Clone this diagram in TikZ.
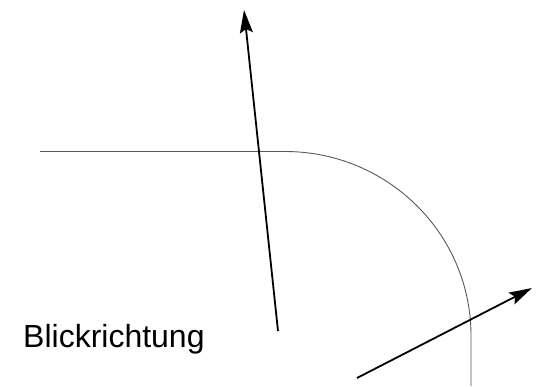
\documentclass[tikz,border=0pt]{standalone}
\usepackage{fontspec}
\setmainfont{Liberation Sans}
\usetikzlibrary{arrows.meta}

\begin{document}
\begin{tikzpicture}[
  x=1pt,y=-1pt,
  road/.style={draw=black!65,line width=0.9pt},
  arr/.style={-{Stealth[length=23pt,width=13pt,inset=4pt]},line width=1.8pt,black},
  lbl/.style={font=\fontsize{32}{36}\selectfont,inner sep=0pt,anchor=base west}
]
\useasboundingbox (0,0) rectangle (536,386);
% road edge
\coordinate (roadstart) at (40,151.5);
\coordinate (bendstart) at (285,151.5);
\coordinate (roadend)   at (471,386);
\draw[road] (roadstart) -- (bendstart) arc[start angle=270,end angle=360,x radius=186,y radius=184] -- (roadend);
% view directions
\coordinate (dirAtail) at (278,331);
\coordinate (dirAtip)  at (244,10);
\coordinate (dirBtail) at (357,378);
\coordinate (dirBtip)  at (532,288);
\draw[arr] (dirAtail) -- (dirAtip);
\draw[arr] (dirBtail) -- (dirBtip);
% label
\node[lbl] (view) at (23,347) {Blickrichtung};
\end{tikzpicture}
\end{document}
